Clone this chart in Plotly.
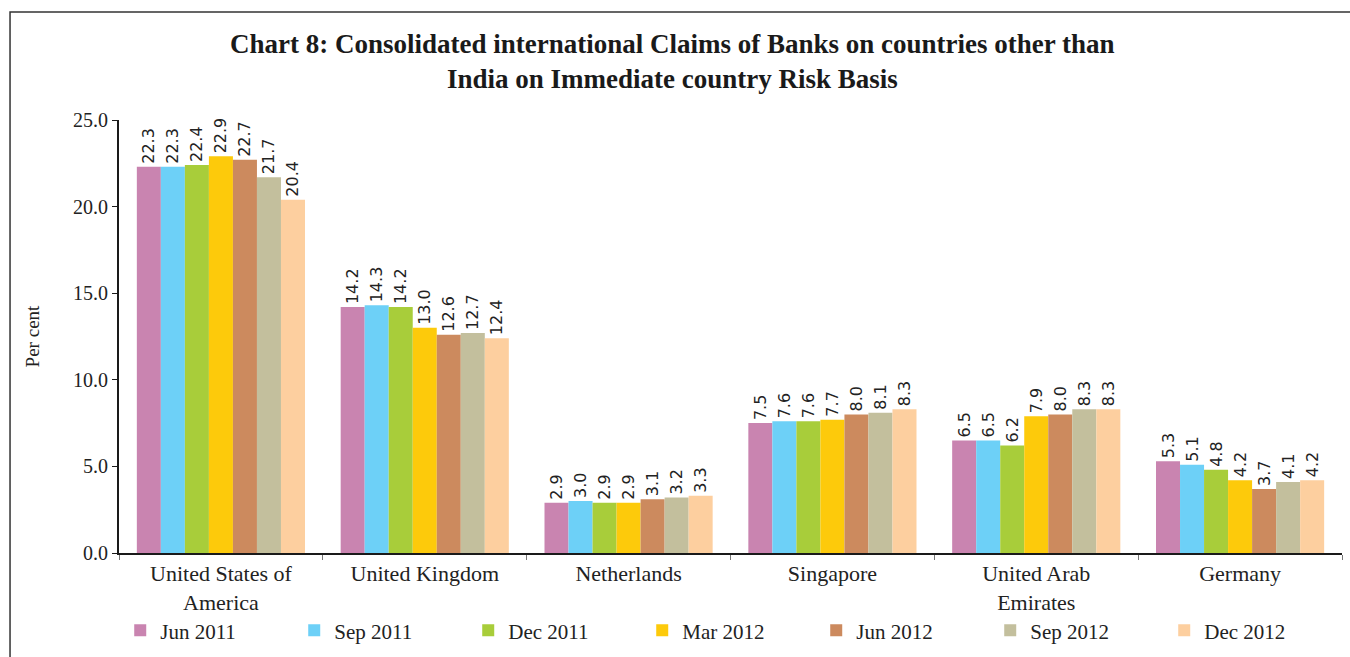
import plotly.graph_objects as go

categories = ["United States of<br>America", "United Kingdom", "Netherlands",
              "Singapore", "United Arab<br>Emirates", "Germany"]
series_names = ["Jun 2011", "Sep 2011", "Dec 2011", "Mar 2012", "Jun 2012", "Sep 2012", "Dec 2012"]
jun_2011 = [22.3, 14.2, 2.9, 7.5, 6.5, 5.3]
sep_2011 = [22.3, 14.3, 3.0, 7.6, 6.5, 5.1]
dec_2011 = [22.4, 14.2, 2.9, 7.6, 6.2, 4.8]
mar_2012 = [22.9, 13.0, 2.9, 7.7, 7.9, 4.2]
jun_2012 = [22.7, 12.6, 3.1, 8.0, 8.0, 3.7]
sep_2012 = [21.7, 12.7, 3.2, 8.1, 8.3, 4.1]
dec_2012 = [20.4, 12.4, 3.3, 8.3, 8.3, 4.2]
series_values = [jun_2011, sep_2011, dec_2011, mar_2012, jun_2012, sep_2012, dec_2012]
colors = ["#C984B0", "#6DD0F7", "#A8CD3A", "#FDCA0B", "#CC8A5E", "#C3BF9D", "#FDCF9F"]
y_ticks = [0, 5, 10, 15, 20, 25]
y_tick_labels = ["0.0", "5.0", "10.0", "15.0", "20.0", "25.0"]

SERIF = "Liberation Serif, DejaVu Serif, serif"
SANS = "DejaVu Sans, Liberation Sans, sans-serif"

fig = go.Figure()
for name, vals, col in zip(series_names, series_values, colors):
    fig.add_trace(go.Bar(
        x=categories, y=vals, name=name, marker_color=col, marker_line_width=0,
        text=[f"{v:.1f}" for v in vals], textposition="outside", textangle=-90,
        cliponaxis=False, constraintext="none",
        textfont=dict(family=SANS, size=16, color="#222"),
    ))

fig.update_layout(
    width=1350, height=657,
    margin=dict(l=119, r=8, t=120, b=104),
    plot_bgcolor="white", paper_bgcolor="white",
    barmode="group", bargap=0.175, bargroupgap=0,
    title=dict(
        text="Chart 8: Consolidated international Claims of Banks on countries other than<br>India on Immediate country Risk Basis",
        x=0.498, xanchor="center", y=0.92, yanchor="middle",
        font=dict(family=SERIF, size=27, color="#1a1a1a", weight="bold"),
    ),
    xaxis=dict(
        showline=True, linecolor="#1a1a1a", linewidth=2,
        ticks="outside", tickson="boundaries", ticklen=5, tickcolor="#777",
        tickfont=dict(family=SERIF, size=22, color="#222"),
        showgrid=False, automargin=False,
    ),
    yaxis=dict(
        range=[0, 25], tickvals=y_ticks, ticktext=y_tick_labels,
        showline=True, linecolor="#1a1a1a", linewidth=2,
        ticks="outside", ticklen=5, tickcolor="#1a1a1a",
        tickfont=dict(family=SERIF, size=20, color="#222"),
        showgrid=False, zeroline=False, automargin=False,
        title=dict(text="Per cent", font=dict(family=SERIF, size=19, color="#222"), standoff=28),
    ),
    legend=dict(
        orientation="h", x=0.001, xanchor="left",
        yref="container", y=0.04, yanchor="middle",
        font=dict(family=SERIF, size=21, color="#222"),
        entrywidth=129, entrywidthmode="pixels",
        traceorder="normal", itemwidth=30,
    ),
    shapes=[dict(
        type="rect", xref="paper", yref="paper",
        x0=-0.0891, x1=1.2, y0=-0.5, y1=1.2494,
        line=dict(color="#333", width=1.5), layer="below",
    )],
)

fig.write_html("out.html")
